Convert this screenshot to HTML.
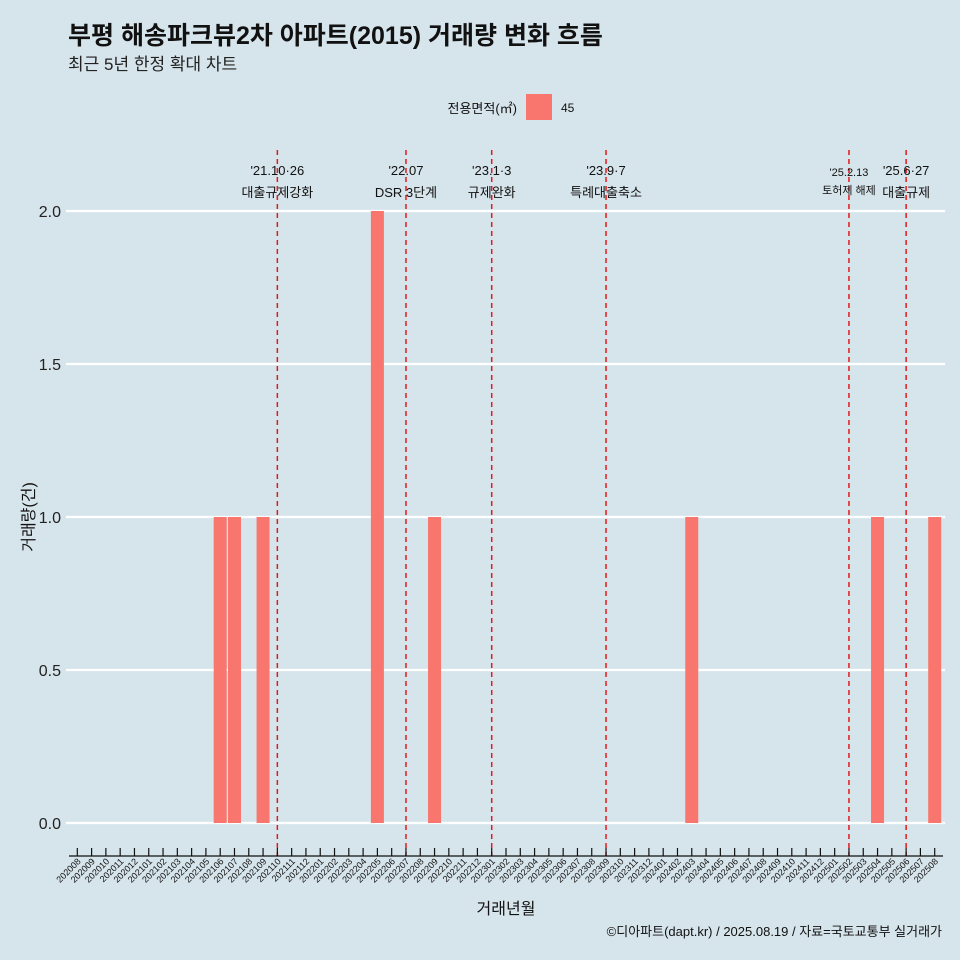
<!DOCTYPE html>
<html><head><meta charset="utf-8"><style>
html,body{margin:0;padding:0;overflow:hidden;background:#d6e4eb;font-family:"Liberation Sans","Noto Sans CJK KR",sans-serif;}
svg{display:block;}
</style></head><body>
<svg width="960" height="960" xmlns="http://www.w3.org/2000/svg" font-family="Liberation Sans, Noto Sans CJK KR, sans-serif">
<rect width="960" height="960" fill="#d6e4eb"/>
<text x="68" y="44" font-size="25" font-weight="bold" fill="#111">부평 해송파크뷰2차 아파트(2015) 거래량 변화 흐름</text>
<text x="68" y="70" font-size="17" fill="#222">최근 5년 한정 확대 차트</text>
<g>
<text x="517" y="113" font-size="13" text-anchor="end" fill="#111">전용면적(㎡)</text>
<rect x="526" y="94" width="26" height="26" fill="#f8766d"/>
<text x="561" y="112" font-size="12" fill="#111">45</text>
</g>
<g id="grid"></g>
<g id="bars"></g>
<g id="events"></g>
<g id="xaxis"></g>
<g id="yaxis"></g>
<text x="506" y="914" font-size="16" text-anchor="middle" fill="#111">거래년월</text>
<text transform="translate(34,517) rotate(-90)" font-size="16" text-anchor="middle" fill="#111">거래량(건)</text>
<text x="942" y="936" font-size="13" text-anchor="end" fill="#111">©디아파트(dapt.kr) / 2025.08.19 / 자료=국토교통부 실거래가</text>
</svg>
<script>
const months=[];for(let y=2020;y<=2025;y++)for(let m=1;m<=12;m++){const k=y*100+m;if(k>=202008&&k<=202508)months.push(String(k));}
const counts={"202106":1,"202107":1,"202109":1,"202205":2,"202209":1,"202403":1,"202504":1,"202508":1};
const yTicks=[0,0.5,1,1.5,2];
const yTickLabels=["0.0","0.5","1.0","1.5","2.0"];
const eventMonths=["202110","202207","202301","202309","202502","202506"];
const eventDates=["'21.10·26","'22.07","'23.1·3","'23.9·7","'25.2.13","'25.6·27"];
const eventNames=["대출규제강화","DSR 3단계","규제완화","특례대출축소","토허제 해제","대출규제"];
const NS="http://www.w3.org/2000/svg";
const x=i=>77.3+i*14.29, y=v=>823-v*306;
function mk(p,t,a){const e=document.createElementNS(NS,t);for(const k in a)e.setAttribute(k,a[k]);document.getElementById(p).appendChild(e);return e;}
yTicks.forEach((v,i)=>{
 const l=mk('grid','line',{x1:66,x2:945,y1:y(v),y2:y(v),stroke:'#fff','stroke-width':2.2});
 
 
 const t=mk('yaxis','text',{x:61,y:y(v)+6,'font-size':16,'text-anchor':'end',fill:'#222'});t.textContent=yTickLabels[i];
 
 
});
months.forEach((m,i)=>{
 const v=counts[m]||0;
 if(v>0){const r=mk('bars','rect',{x:x(i)-6.5,y:y(v),width:13,height:y(0)-y(v),fill:'#f8766d'});
 
 }
 const tk=mk('xaxis','line',{x1:x(i),x2:x(i),y1:848,y2:856,stroke:'#111','stroke-width':1.2});
 
 
 const t=mk('xaxis','text',{transform:`translate(${x(i)+4},862) rotate(-45)`,'font-size':9,'text-anchor':'end',fill:'#111'});t.textContent=m;
 
 
});
const ax=mk('xaxis','line',{x1:69,x2:943,y1:856,y2:856,stroke:'#111','stroke-width':1.2});


eventMonths.forEach((m,k)=>{
 const i=months.indexOf(m),xx=x(i);
 const l=mk('events','line',{x1:xx,x2:xx,y1:150,y2:856,stroke:'#e41a1c','stroke-width':1.5,'stroke-dasharray':'5,4'});
 
 
 const small=(k===4);
 const fs=small?11:13;
 const a=mk('events','text',{x:xx,y:small?176:175,'font-size':fs,'text-anchor':'middle',fill:'#111'});a.textContent=eventDates[k];
 
 
 const b=mk('events','text',{x:xx,y:small?194:197,'font-size':fs,'text-anchor':'middle',fill:'#111'});b.textContent=eventNames[k];
 
 
});
</script>
</body></html>
